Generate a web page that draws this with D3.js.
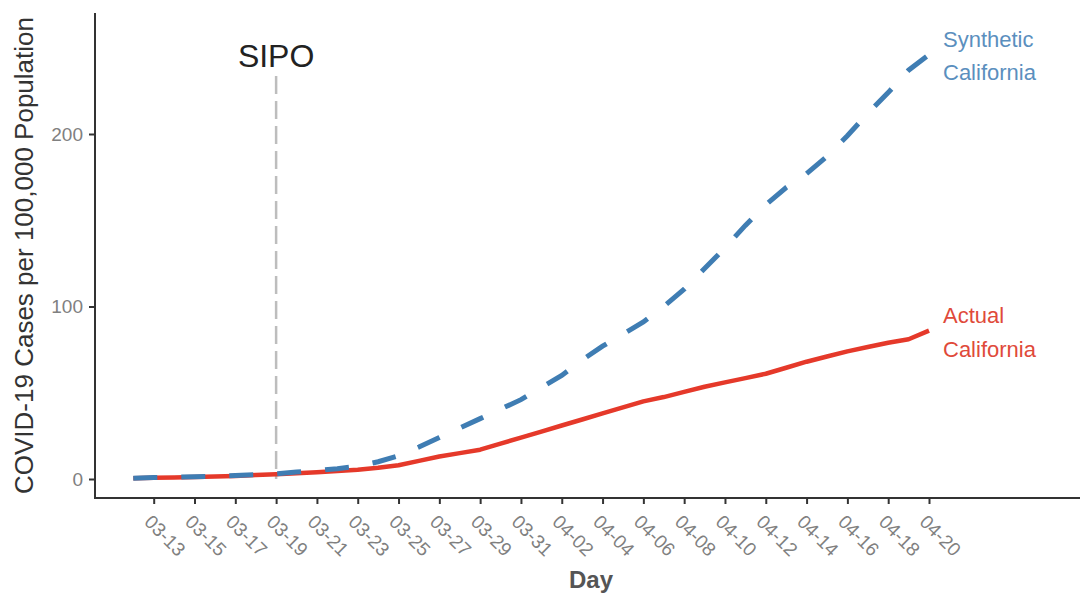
<!DOCTYPE html>
<html>
<head>
<meta charset="utf-8">
<script src="https://cdn.jsdelivr.net/npm/d3@7"></script>
<style>
  body { margin: 0; background: #fff; }
  svg { font-family: "Liberation Sans", Arial, sans-serif; }
</style>
</head>
<body>
<div id="chart"></div>
<script>
// days from 03-12 to 04-20 (2020)
const days = ["03-12","03-13","03-14","03-15","03-16","03-17","03-18","03-19","03-20","03-21",
  "03-22","03-23","03-24","03-25","03-26","03-27","03-28","03-29","03-30","03-31",
  "04-01","04-02","04-03","04-04","04-05","04-06","04-07","04-08","04-09","04-10",
  "04-11","04-12","04-13","04-14","04-15","04-16","04-17","04-18","04-19","04-20"];

const actual = [0.5,0.7,0.9,1.1,1.4,1.8,2.3,2.8,3.3,3.9,
  4.6,5.4,6.5,8,10.5,13,15,17,20.5,24,
  27.5,31,34.5,38,41.5,45,47.5,50.5,53.5,56,
  58.5,61,64.5,68,71,74,76.5,79,81,86];

const synthetic = [0.5,0.8,1.0,1.3,1.6,2.0,2.5,3,4,5,
  6,7.5,10,13.5,18.5,24,29.5,35,40.5,46,
  53,60,69,77,84,91,100,110,122,134,
  147,159,169,177,187,199,212,224,237,246];

const xTickLabels = ["03-13","03-15","03-17","03-19","03-21","03-23","03-25","03-27","03-29","03-31",
  "04-02","04-04","04-06","04-08","04-10","04-12","04-14","04-16","04-18","04-20"];
const yTicks = [0, 100, 200];
const sipoDay = "03-19";

const W = 1080, H = 597;
const parse = d3.utcParse("%Y-%m-%d");
const toDate = s => parse("2020-" + s);

const svg = d3.select("#chart").append("svg")
  .attr("width", W)
  .attr("height", H);

const x = d3.scaleUtc()
  .domain([toDate("03-13"), toDate("04-20")])
  .range([153.7, 929]);

const y = d3.scaleLinear()
  .domain([0, 200])
  .range([479, 134]);

const axisLeftX = 95, axisBottomY = 498, axisTopY = 13;

// axis lines
svg.append("line")
  .attr("x1", axisLeftX).attr("x2", axisLeftX)
  .attr("y1", axisTopY).attr("y2", axisBottomY + 1)
  .attr("stroke", "#333").attr("stroke-width", 2);
svg.append("line")
  .attr("x1", axisLeftX - 1).attr("x2", W)
  .attr("y1", axisBottomY).attr("y2", axisBottomY)
  .attr("stroke", "#333").attr("stroke-width", 2);

// y axis
const yAxis = svg.append("g")
  .attr("transform", `translate(${axisLeftX},0)`)
  .call(d3.axisLeft(y).tickValues(yTicks).tickSize(6).tickPadding(6));
yAxis.select(".domain").remove();
yAxis.selectAll(".tick line").attr("stroke", "#333").attr("stroke-width", 2);
yAxis.selectAll(".tick text")
  .attr("fill", "#808080")
  .style("font-size", "19px");

// x axis
const xAxis = svg.append("g")
  .attr("transform", `translate(0,${axisBottomY})`)
  .call(d3.axisBottom(x)
    .tickValues(xTickLabels.map(toDate))
    .tickFormat(d3.utcFormat("%m-%d"))
    .tickSize(6));
xAxis.select(".domain").remove();
xAxis.selectAll(".tick line").attr("stroke", "#333").attr("stroke-width", 2);
xAxis.selectAll(".tick text")
  .attr("fill", "#808080")
  .style("font-size", "19px")
  .attr("text-anchor", "start")
  .attr("dy", null)
  .attr("y", 0)
  .attr("transform", "translate(-11,25) rotate(45)");

// SIPO marker
svg.append("line")
  .attr("x1", x(toDate(sipoDay))).attr("x2", x(toDate(sipoDay)))
  .attr("y1", 76).attr("y2", y(0))
  .attr("stroke", "#bdbdbd")
  .attr("stroke-width", 2.5)
  .attr("stroke-dasharray", "18,7");
svg.append("text")
  .attr("x", x(toDate(sipoDay)))
  .attr("y", 67)
  .attr("text-anchor", "middle")
  .attr("fill", "#222")
  .style("font-size", "32px")
  .text("SIPO");

// lines
const line = d3.line()
  .x((d, i) => x(toDate(days[i])))
  .y(d => y(d));

svg.append("path")
  .datum(actual)
  .attr("fill", "none")
  .attr("stroke", "#e5392a")
  .attr("stroke-width", 4.5)
  .attr("stroke-linejoin", "round")
  .attr("d", line);

svg.append("path")
  .datum(synthetic)
  .attr("fill", "none")
  .attr("stroke", "#3f7db3")
  .attr("stroke-width", 5)
  .attr("stroke-dasharray", "24,24")
  .attr("d", line);

// line labels
const labX = 943;
svg.append("text")
  .attr("x", labX).attr("y", 47)
  .attr("fill", "#5b8fbe")
  .style("font-size", "22px")
  .text("Synthetic");
svg.append("text")
  .attr("x", labX).attr("y", 80)
  .attr("fill", "#5b8fbe")
  .style("font-size", "22px")
  .text("California");
svg.append("text")
  .attr("x", labX).attr("y", 323)
  .attr("fill", "#e04a3a")
  .style("font-size", "22px")
  .text("Actual");
svg.append("text")
  .attr("x", labX).attr("y", 357)
  .attr("fill", "#e04a3a")
  .style("font-size", "22px")
  .text("California");

// axis titles
svg.append("text")
  .attr("transform", `translate(33,${(axisTopY + axisBottomY) / 2}) rotate(-90)`)
  .attr("text-anchor", "middle")
  .attr("fill", "#333")
  .style("font-size", "26px")
  .text("COVID-19 Cases per 100,000 Population");

svg.append("text")
  .attr("x", 591)
  .attr("y", 588)
  .attr("text-anchor", "middle")
  .attr("fill", "#555")
  .style("font-size", "24px")
  .style("font-weight", "bold")
  .text("Day");
</script>
</body>
</html>
